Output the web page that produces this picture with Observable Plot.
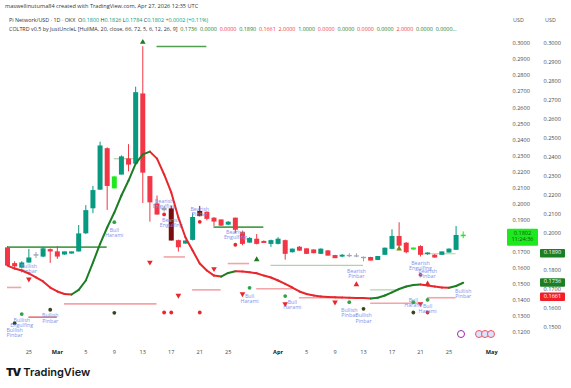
<!DOCTYPE html>
<html>
<head>
<meta charset="utf-8">
<script src="https://cdn.jsdelivr.net/npm/d3@7"></script>
<script src="https://cdn.jsdelivr.net/npm/@observablehq/plot@0.6"></script>
<style>
  html,body{margin:0;padding:0;background:#fff;}
  #wrap{position:relative;width:571px;height:388px;overflow:hidden;font-family:"Open Sans","DejaVu Sans",sans-serif;color:#131722;}
  .t{position:absolute;white-space:nowrap;line-height:1;}
  #l1{left:5px;top:4px;font-size:5.6px;color:#333;}
  #l2{left:9px;top:18px;font-size:5.4px;color:#333;}
  #l3{left:9px;top:27px;font-size:5.4px;color:#333;}
  .g{color:#089981}.r{color:#f23645}.dg{color:#1b7d24}
  #usd1{left:513px;top:18px;font-size:5.4px;color:#555}
  #usd2{left:545px;top:18px;font-size:5.4px;color:#555}
  #chart{position:absolute;left:0;top:38px;width:571px;height:320px;}
  #chart svg{position:absolute;left:0;top:0;}
  #logo{left:6px;top:367px;font-size:11px;font-weight:600;color:#131722;font-family:Inter,"Open Sans",sans-serif;}
  #logo b{font-weight:900;letter-spacing:-1px;margin-right:3px;}
  .ev{position:absolute;top:330px;width:8px;height:8px;border-radius:50%;box-sizing:border-box;}
</style>
</head>
<body>
<div id="wrap">
  <div class="t" id="l1">maswellinutuma84 created with TradingView.com, Apr 27, 2026 12:35 UTC</div>
  <div class="t" id="l2">Pi Network/USD · 1D · OKX &nbsp;O<span class="g">0.1800</span> H<span class="g">0.1826</span> L<span class="g">0.1784</span> C<span class="g">0.1802</span> <span class="g">+0.0002 (+0.11%)</span></div>
  <div class="t" id="l3">COLTRD v0.5 by JustUncleL [HullMA, 20, close, 66, 72, 5, 6, 12, 26, 9] &nbsp;<span id="indvals"></span></div>
  <div class="t" id="usd1">USD</div>
  <div class="t" id="usd2">USD</div>
  <div id="chart"></div>
  <div class="ev" style="left:457px;border:1px solid #9c27b0;"></div>
  <div class="ev" style="left:475px;border:1.5px solid #f7525f;background:#dbe4ff;"></div>
  <div class="ev" style="left:481px;border:1.5px solid #f7525f;background:#dbe4ff;"></div>
  <div class="ev" style="left:487px;border:1.5px solid #f7525f;background:#dbe4ff;"></div>
  <div class="t" id="logo"><b>TV</b>TradingView</div>
</div>
<script>
// ---------- DATA ----------
const firstDay = "2026-02-22";
const candleOpen  = [.1723,.1625,.1604,.1636,.1679,.1673,.1712,.1698,.1686,.1692,.1705,.1818,.1974,.2090,.2341,.2098,.2184,.2277,.2252,.2682,.2167,.1997,.1962,.1966,.1768,.1754,.1777,.1950,.1945,.1908,.1897,.1872,.1908,.1818,.1760,.1777,.1763,.1752,.1752,.1768,.1700,.1727,.1717,.1710,.1690,.1704,.1675,.1673,.1675,.1673,.1663,.1663,.1652,.1684,.1721,.1794,.1752,.1717,.1731,.1688,.1677,.1684,.1698,.1715,.1800];
const candleHigh  = [.1735,.1640,.1640,.1717,.1698,.1730,.1720,.1735,.1700,.1700,.1866,.1990,.2110,.2385,.2350,.2170,.2300,.2370,.2728,.2980,.2170,.2050,.1985,.1985,.1775,.1770,.1940,.1985,.1950,.1915,.1900,.1890,.1912,.1830,.1790,.1810,.1770,.1775,.1790,.1775,.1720,.1735,.1720,.1715,.1720,.1710,.1680,.1685,.1690,.1690,.1670,.1668,.1672,.1725,.1839,.1883,.1760,.1725,.1740,.1695,.1685,.1700,.1720,.1860,.1826];
const candleLow   = [.1610,.1590,.1595,.1630,.1660,.1665,.1630,.1655,.1680,.1688,.1700,.1810,.1940,.2085,.1960,.2095,.2180,.2200,.2240,.2003,.1887,.1930,.1950,.1770,.1700,.1750,.1770,.1920,.1895,.1860,.1860,.1865,.1815,.1740,.1755,.1745,.1755,.1730,.1745,.1650,.1695,.1705,.1685,.1690,.1685,.1675,.1660,.1665,.1665,.1665,.1640,.1645,.1648,.1680,.1715,.1730,.1690,.1712,.1670,.1680,.1662,.1680,.1695,.1710,.1784];
const candleClose = [.1617,.1612,.1629,.1660,.1680,.1717,.1705,.1673,.1698,.1698,.1810,.1955,.2080,.2358,.2113,.2165,.2290,.2246,.2690,.2196,.2011,.1935,.1968,.1773,.1731,.1766,.1912,.1925,.1908,.1891,.1866,.1883,.1840,.1752,.1782,.1752,.1758,.1768,.1777,.1690,.1715,.1710,.1690,.1694,.1715,.1679,.1663,.1677,.1676,.1673,.1664,.1648,.1669,.1721,.1794,.1741,.1700,.1722,.1684,.1691,.1667,.1698,.1715,.1800,.1802];
// bar highlight from the indicator: n = normal, hi = bullish highlight, lo = bearish highlight, dj = neutral
const barSignal = ["n","n","n","n","dj","n","n","n","n","n","n","n","n","n","n","hi","n","n","n","n","n","n","dj","lo","n","n","n","lo","n","n","n","n","n","n","n","n","n","n","n","n","n","n","n","n","n","n","n","n","dj","dj","dj","n","n","n","n","n","n","hi","n","n","n","n","n","n","hi"];
// Hull MA (indicator scale)
const hullMA = [.1827,.1811,.1801,.1785,.1764,.1743,.1711,.1690,.1677,.1674,.1698,.1748,.1843,.1941,.2028,.2107,.2197,.2276,.2366,.2414,.2429,.2392,.2308,.2213,.2081,.1975,.1906,.1838,.1801,.1774,.1769,.1788,.1797,.1796,.1792,.1786,.1774,.1764,.1748,.1730,.1711,.1690,.1677,.1669,.1664,.1661,.1659,.1658,.1657,.1656,.1655,.1653,.1657,.1669,.1685,.1703,.1716,.1724,.1727,.1722,.1716,.1711,.1710,.1719,.1736];

// horizontal levels
const levelStart = ["2026-02-22","2026-03-15","2026-03-09","2026-03-23","2026-03-31","2026-04-21","2026-04-14","2026-02-22","2026-02-25","2026-03-02","2026-03-16","2026-03-20","2026-03-25","2026-03-29","2026-04-04","2026-04-14","2026-04-22"];
const levelEnd   = ["2026-03-08","2026-03-22","2026-03-12","2026-03-30","2026-04-13","2026-04-26","2026-04-18","2026-02-24","2026-03-01","2026-03-15","2026-03-19","2026-03-24","2026-03-28","2026-04-03","2026-04-10","2026-04-21","2026-04-26"];
const levelPrice = [.1731,.2981,.2282,.1856,.1617,.1690,.1465,.1480,.1295,.1378,.1670,.1465,.1629,.1472,.1416,.1382,.1416];
const levelKind  = ["res","res","resFaint","res","resFaint","resFaint","resFaint","sup","supStrong","sup","sup","sup","sup","sup","sup","sup","sup"];

// pattern markers
const markerDate = ["2026-02-23","2026-02-24","2026-02-28","2026-03-09","2026-03-09","2026-03-16","2026-03-17","2026-03-21","2026-03-16","2026-03-21","2026-03-26","2026-03-28","2026-04-02","2026-04-11","2026-04-13","2026-04-20","2026-04-20","2026-04-22","2026-04-22","2026-04-21",
                    "2026-02-25","2026-03-14","2026-03-18","2026-03-23","2026-03-27","2026-04-02","2026-04-09","2026-04-21",
                    "2026-04-12","2026-04-22",
                    "2026-03-13","2026-03-29","2026-04-18"];
const markerPrice = [.1257,.1314,.1341,.1322,.1887,.1324,.1324,.1324,.1935,.1889,.1746,.1478,.1426,.1388,.1347,.1388,.1324,.1403,.1324,.1559,
                     .1532,.1637,.1430,.1596,.1440,.1378,.1388,.1378,
                     .1498,.1503,
                     .3008,.1654,.1721];
const markerType = ["dotDark","dotGreen","dotDark","dotDark","dotGreen","dotRed","dotRed","dotRed","dotRed","dotRed","dotRed","dotGreen","dotGreen","dotGreen","dotDark","dotGreen","dotDark","dotGreen","dotRed","dotRed",
                    "downRed","downRed","downRed","downRed","downRed","downRed","downRed","downRed",
                    "upRed","upRed",
                    "upGreen","upGreen","upOlive"];

// pattern labels
const labelText = ["Bullish\nPinbar","Bullish\nEngulfing","Bullish\nPinbar","Bullish\nPinbar","Bull\nHarami","Bearish\nEngulfing","Bearish\nEngulfing","Bearish\nPinbar","Bearish\nEngulfing","Bull\nHarami","Bull\nHarami","Bearish\nPinbar","Bullish\nPinbar","Bullish\nPinbar","Bearish\nEngulfing","Bearish\nPinbar","Bull\nHarami","Bull\nHarami","Bullish\nPinbar"];
const labelDate = ["2026-02-25","2026-02-24","2026-02-23","2026-02-28","2026-03-09","2026-03-16","2026-03-17","2026-03-21","2026-03-26","2026-03-28","2026-04-03","2026-04-12","2026-04-11","2026-04-13","2026-04-21","2026-04-22","2026-04-20","2026-04-22","2026-04-27"];
const labelPrice = [.1596,.1259,.1199,.1287,.1822,.2003,.1882,.1953,.1810,.1411,.1374,.1567,.1324,.1287,.1617,.1567,.1383,.1349,.1442];

// axes (0.1800 and 0.1900 sit under the value tags)
const priceTicks = [.12,.13,.14,.15,.16,.17,.19,.20,.21,.22,.23,.24,.25,.26,.27,.28,.29,.30];
const hullTicks  = [.15,.16,.17,.18,.20,.21,.22,.23,.24,.25,.26,.27,.28,.29,.30];
const dayTicks   = ["2026-02-25","2026-03-05","2026-03-09","2026-03-13","2026-03-17","2026-03-21","2026-03-25","2026-04-05","2026-04-09","2026-04-13","2026-04-17","2026-04-21","2026-04-25"];
const monthTicks = ["2026-03-01","2026-04-01","2026-05-01"];

// last values on the scales
const lastPrice = 0.1802, countdown = "11:24:36";
const hullTags = [{v:.1890, k:"up"},{v:.1736, k:"up"},{v:.1661, k:"down"}];
const headerVals = [["0.1736","dg"],["0.0000","dg"],["0.0000","r"],["0.1890","dg"],["0.1661","r"],["2.0000","r"],["1.0000","dg"],["0.0000","r"],["0.0000","dg"],["0.0000","r"],["0.0000","dg"],["2.0000","r"],["0.0000","dg"],["0.0000…","dg"]];

// ---------- BUILD ----------
document.getElementById("indvals").innerHTML = headerVals.map(([t,c]) => `<span class="${c}">${t}</span>`).join(" &nbsp;");
const D = s => new Date(s + "T00:00:00Z");
const day0 = D(firstDay);
const dates = candleOpen.map((_, i) => d3.utcDay.offset(day0, i));
const candles = dates.map((d, i) => ({date: d, o: candleOpen[i], h: candleHigh[i], l: candleLow[i], c: candleClose[i], s: barSignal[i]}));
const colorOf = d => d.s === "hi" ? "#1ee81e" : d.s === "lo" ? "#7a0d0d" : d.s === "dj" ? "#9aa3b8" : (d.c >= d.o ? "#089981" : "#f23645");

const levels = levelPrice.map((p, i) => ({a: D(levelStart[i]), b: D(levelEnd[i]), p, k: levelKind[i]}));
const levelColor = {res: "#4f9f4f", resFaint: "#b2cfae", sup: "#f4a3a7", supStrong: "#e57373"};
const markers = markerPrice.map((p, i) => ({date: D(markerDate[i]), p, t: markerType[i]}));
const markerColor = {dotDark: "#39461d", dotGreen: "#34a048", dotRed: "#e8262b", downRed: "#e8262b", upRed: "#e8262b", upGreen: "#1f7a24", upOlive: "#7d8a12"};
const labels = labelText.map((t, i) => ({t, date: D(labelDate[i]), p: labelPrice[i]}));

const DAY = 864e5;
const xDomain = [new Date(+day0 - 0.983 * DAY), new Date(+day0 + 69.66 * DAY)];
const W = 571, H = 320, MR = 68, MB = 15;
const baseStyle = {background: "transparent", fontFamily: "'Open Sans','DejaVu Sans',sans-serif", fontSize: "5.6px", overflow: "visible"};

const pricePlot = Plot.plot({
  width: W, height: H, marginTop: 0, marginBottom: MB, marginLeft: 0, marginRight: MR,
  style: baseStyle,
  x: {type: "utc", domain: xDomain, label: null},
  y: {domain: [0.11308, 0.30312], label: null},
  marks: [
    Plot.ruleY(levels, {y: "p", x1: "a", x2: "b", stroke: d => levelColor[d.k], strokeWidth: d => d.k === "resFaint" ? 1.2 : 1.6}),
    Plot.ruleX(candles, {x: "date", y1: "l", y2: "h", stroke: colorOf, strokeWidth: 1}),
    Plot.ruleX(candles, {x: "date", y1: d => Math.max(d.o, d.c), y2: d => Math.min(d.o, d.c), stroke: colorOf, strokeWidth: 5, insetTop: -0.6, insetBottom: -0.6}),
    Plot.dot(markers.filter(d => d.t.startsWith("dot")), {x: "date", y: "p", r: 1.9, fill: d => markerColor[d.t], stroke: "none"}),
    Plot.dot(markers.filter(d => d.t.startsWith("down")), {x: "date", y: "p", r: 2.1, symbol: "triangle", rotate: 180, fill: d => markerColor[d.t], stroke: "none"}),
    Plot.dot(markers.filter(d => d.t.startsWith("up")), {x: "date", y: "p", r: 2.1, symbol: "triangle", fill: d => markerColor[d.t], stroke: "none"}),
    Plot.text(labels, {x: "date", y: "p", text: "t", fill: "#8193ee", fontSize: 5.3, lineHeight: 1.0}),
    Plot.axisY(priceTicks, {anchor: "right", tickSize: 0, tickPadding: 9, tickFormat: d3.format(".4f"), fill: "#4a4a4a", label: null}),
    Plot.axisX(dayTicks.map(D), {tickSize: 0, tickPadding: 7, tickFormat: d => String(d.getUTCDate()), fill: "#4a4a4a", label: null}),
    Plot.axisX(monthTicks.map(D), {tickSize: 0, tickPadding: 7, tickFormat: d3.utcFormat("%b"), fill: "#131722", fontWeight: "bold", label: null})
  ]
});

const segs = hullMA.slice(1).map((v, i) => ({x1: dates[i], y1: hullMA[i], x2: dates[i + 1], y2: v}));
let lastUp = false;
segs.forEach(s => { if (s.y2 !== s.y1) lastUp = s.y2 > s.y1; s.up = lastUp; });

const hullPlot = Plot.plot({
  width: W, height: H, marginTop: 0, marginBottom: MB, marginLeft: 0, marginRight: MR,
  style: baseStyle,
  x: {type: "utc", domain: xDomain, label: null, axis: null},
  y: {domain: [0.14152, 0.30264], label: null},
  marks: [
    Plot.link(segs, {x1: "x1", y1: "y1", x2: "x2", y2: "y2", stroke: d => d.up ? "#1b7d24" : "#e8262b", strokeWidth: 2, strokeLinecap: "round"}),
    Plot.axisY(hullTicks, {anchor: "right", tickSize: 0, tickPadding: 40, tickFormat: d3.format(".4f"), fill: "#4a4a4a", label: null})
  ]
});

// scale tags (value boxes on the price scales)
const frameRight = W - MR;
function tag(svg, yPix, x, w, top, h, bg, lines, color, dy) {
  const g = d3.select(svg).append("g");
  g.append("rect").attr("x", x).attr("y", yPix + top).attr("width", w).attr("height", h).attr("rx", 1).attr("fill", bg);
  lines.forEach((t, j) => g.append("text").attr("x", x + w / 2).attr("y", yPix + top + 3.2 + (j + 0.5) * 6.2 + dy)
    .attr("text-anchor", "middle").attr("font-size", "5.6px").attr("fill", color).text(t));
}
const py = pricePlot.scale("y");
tag(pricePlot, py.apply(lastPrice), frameRight + 4, 31, -6.5, 17, "#1ee81e", [lastPrice.toFixed(4), countdown], "#0b5e0b", 0);
const hy = hullPlot.scale("y");
hullTags.forEach(t => tag(hullPlot, hy.apply(t.v), frameRight + 37, 25, -4, 8.5, t.k === "up" ? "#1b7d24" : "#f21f2b", [t.v.toFixed(4)], "#fff", -1.1));

const chart = document.getElementById("chart");
chart.append(pricePlot);
chart.append(hullPlot);
</script>
</body>
</html>
